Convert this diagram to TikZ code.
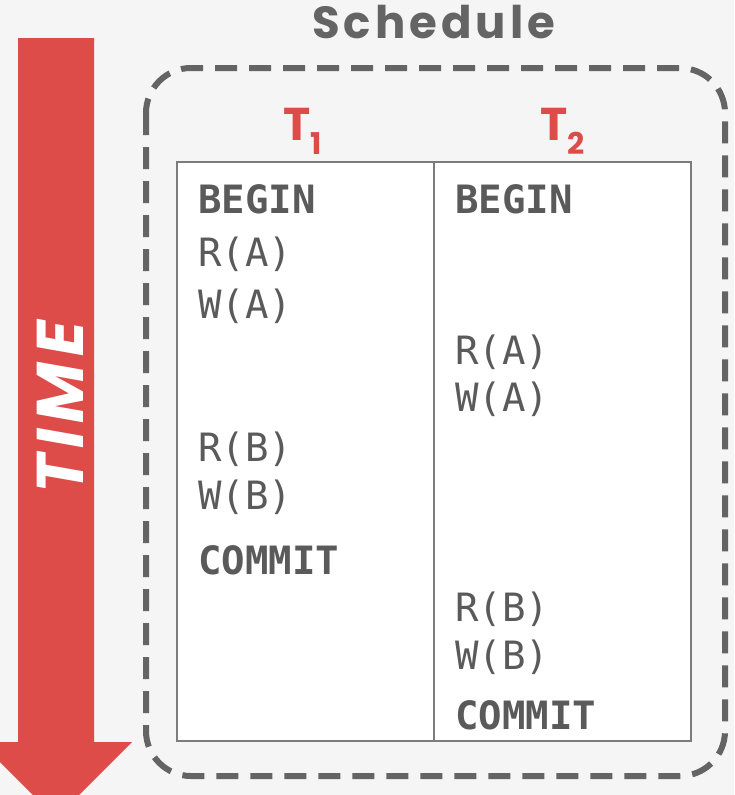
\documentclass[tikz,border=0pt]{standalone}
\usepackage{fontspec}
\newfontfamily\codefont{DejaVu Sans Mono}
\newfontfamily\titlefont{Poppins}
\newfontfamily\anchafont[LetterSpace=9]{Poppins}
\definecolor{rojo}{HTML}{DD4C48}
\definecolor{gris}{HTML}{646464}
\definecolor{texto}{HTML}{5A5A5A}
\definecolor{borde}{HTML}{7C7C7C}
\definecolor{fondo}{HTML}{F5F5F5}
\tikzset{
  op/.style={anchor=base west, inner sep=0pt, text=texto,
    font=\codefont\fontsize{39}{39}\selectfont},
  opfuerte/.style={op, font=\codefont\bfseries\fontsize{39}{39}\selectfont},
  trans/.style={anchor=base west, inner sep=0pt, text=rojo,
    font=\titlefont\bfseries\fontsize{46}{46}\selectfont}
}
\begin{document}
\begin{tikzpicture}[x=1pt,y=-1pt]
            % Fondo
            \useasboundingbox[fill=fondo] (0,0) rectangle (734,795);

            % Flecha del tiempo
            \fill[rojo] (18,38) -- (94,38) -- (94,742) -- (132,742) -- (56,818)
                        -- (-20,742) -- (18,742) -- cycle;
            \node[rotate=90, text=white, inner sep=0pt,
                  font=\anchafont\bfseries\itshape\fontsize{66}{66}\selectfont]
                  (tiempo) at (60,407) {TIME};

            % Planificacion
            \node[anchor=base west, inner sep=0pt, text=gris,
                  font=\anchafont\bfseries\fontsize{45}{45}\selectfont]
                  (titulo) at (312,38) {Schedule};
            \draw[gris, line width=6, dash pattern=on 22 off 12, rounded corners=45]
                  (146,68) rectangle (725,776);

            % Tabla
            \draw[borde, line width=1.6, fill=white] (177,162) rectangle (691,741);
            \draw[borde, line width=1.6] (434,162) -- (434,741);

            % Transacciones
            \node[trans] (t1) at (283,140) {T\raisebox{-14pt}{\fontsize{30}{30}\selectfont 1}};
            \node[trans] (t2) at (540,140) {T\raisebox{-14pt}{\fontsize{30}{30}\selectfont 2}};

            % Operaciones de T1
            \node[opfuerte] (a0) at (198,213) {BEGIN};
            \node[op] (a1) at (198,266) {R(A)};
            \node[op] (a2) at (198,318) {W(A)};
            \node[op] (a3) at (198,461) {R(B)};
            \node[op] (a4) at (198,509) {W(B)};
            \node[opfuerte] (a5) at (198,574) {COMMIT};

            % Operaciones de T2
            \node[opfuerte] (b0) at (455,213) {BEGIN};
            \node[op] (b1) at (455,364) {R(A)};
            \node[op] (b2) at (455,411) {W(A)};
            \node[op] (b3) at (455,621) {R(B)};
            \node[op] (b4) at (455,669) {W(B)};
            \node[opfuerte] (b5) at (455,729) {COMMIT};
\end{tikzpicture}
\end{document}
